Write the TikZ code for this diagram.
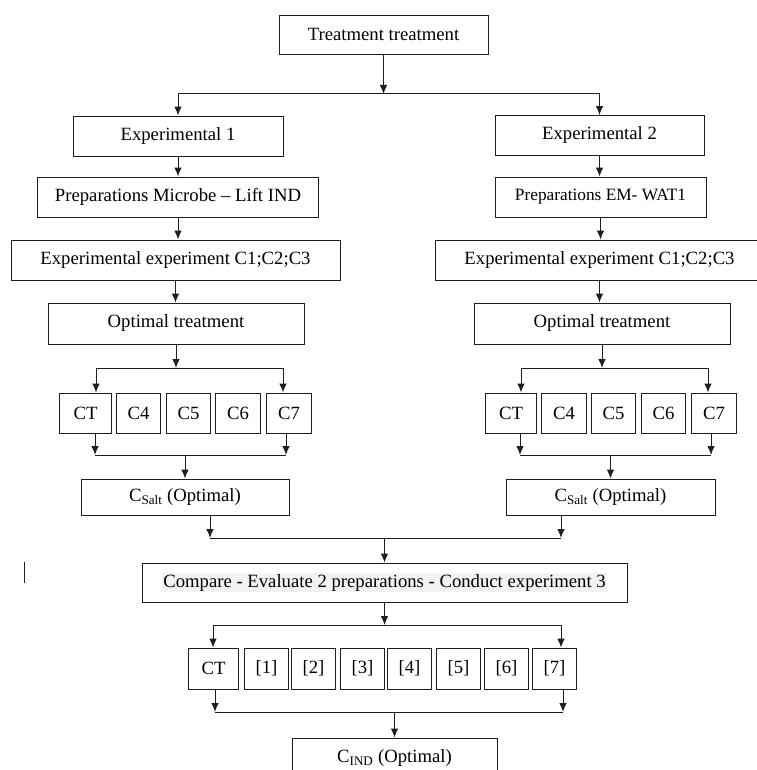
\documentclass[tikz,border=0pt]{standalone}
\usepackage{fontspec}
\setmainfont{Liberation Serif}
\usepackage{tikz}
\usetikzlibrary{arrows.meta,positioning,calc}
\definecolor{hlgray}{RGB}{242,242,242}
\definecolor{linec}{RGB}{30,30,30}
\begin{document}
\begin{tikzpicture}[
  x=1pt, y=-1pt,
  font=\fontsize{18.7}{22}\selectfont,
  >=Latex,
  box/.style={draw=linec, line width=0.95pt, inner sep=2pt,
    minimum height=40pt, align=center, text=black},
  cell/.style={box, minimum width=44pt},
  arr/.style={-{Latex[length=9pt,width=7.5pt]}, line width=1pt, color=linec},
  ln/.style={line width=1pt, color=linec}
]
\useasboundingbox (0,0) rectangle (756,770);

% ---- Top ----
\node[box, minimum width=209pt, minimum height=39pt] (top) at (383.5, 34.5) {Treatment treatment};

% ---- Branch 1 (left) ----
\node[box, minimum width=210pt] (exA) at (178, 136) {Experimental 1};
\node[box, minimum width=281pt] (prepA) at (178, 197) {Preparations Microbe -- Lift IND};
\node[box, minimum width=329pt] (runA) at (175.5, 260) {Experimental experiment C1;C2;C3};
\node[box, minimum width=256pt, minimum height=41pt] (optA) at (176, 323.5) {Optimal treatment};
\node[cell, minimum width=52pt] (ctA) at (85.5, 413) {CT};
\node[cell] (c4A) at (138.5, 413) {C4};
\node[cell] (c5A) at (188.5, 413) {C5};
\node[cell, minimum width=45pt] (c6A) at (238, 413) {C6};
\node[cell, minimum width=45pt] (c7A) at (289, 413) {C7};
\node[box, minimum width=208pt, minimum height=36pt] (csA) at (185, 497) {C\textsubscript{Salt} (Optimal)};

% ---- Branch 2 (right) ----
\node[box, minimum width=209pt] (exB) at (599.5, 135.5) {Experimental 2};
\node[box, minimum width=211pt, font=\fontsize{17.3}{20}\selectfont] (prepB) at (600.5, 197) {Preparations EM- WAT1};
\node[box, minimum width=329pt] (runB) at (599.5, 260) {Experimental experiment C1;C2;C3};
\node[box, minimum width=256pt, minimum height=41pt] (optB) at (602, 323.5) {Optimal treatment};
\node[cell, minimum width=51pt] (ctB) at (511, 413) {CT};
\node[cell, minimum width=45pt] (c4B) at (564, 413) {C4};
\node[cell] (c5B) at (613.5, 413) {C5};
\node[cell] (c6B) at (663.5, 413) {C6};
\node[cell, minimum width=45pt] (c7B) at (714, 413) {C7};
\node[box, minimum width=209pt, minimum height=36pt] (csB) at (610.5, 497) {C\textsubscript{Salt} (Optimal)};

% ---- Experiment 3 ----
\node[box, minimum width=485pt, minimum height=39pt] (cmp) at (384.5, 582.5)
  {\setlength{\fboxsep}{1pt}\colorbox{hlgray}{Compare - Evaluate 2 preparations - Conduct experiment 3}};
\node[cell, minimum width=50pt, minimum height=41pt] (ct3) at (213.5, 668.5) {CT};
\node[cell, minimum height=41pt] (d1) at (266.5, 668.5) {[1]};
\node[cell, minimum height=41pt] (d2) at (313.5, 668.5) {[2]};
\node[cell, minimum height=41pt] (d3) at (362.5, 668.5) {[3]};
\node[cell, minimum height=41pt] (d4) at (409.5, 668.5) {[4]};
\node[cell, minimum height=41pt] (d5) at (458.5, 668.5) {[5]};
\node[cell, minimum height=41pt] (d6) at (506.5, 668.5) {[6]};
\node[cell, minimum height=41pt] (d7) at (554.5, 668.5) {[7]};
\node[box, minimum width=205pt] (cind) at (394.5, 758) {C\textsubscript{IND} (Optimal)};

% ---- Junction points ----
\coordinate (jTop) at (383.5, 94);
\coordinate (sA1) at (96, 368);
\coordinate (sA2) at (283, 368);
\coordinate (mA1) at (95, 455);
\coordinate (mA2) at (286, 455);
\coordinate (sB1) at (521, 368);
\coordinate (sB2) at (708, 368);
\coordinate (mB1) at (520, 455);
\coordinate (mB2) at (711, 455);
\coordinate (jA) at (210, 538);
\coordinate (jB) at (561, 538);
\coordinate (sC1) at (213, 625);
\coordinate (sC2) at (561, 625);
\coordinate (mC1) at (215, 712);
\coordinate (mC2) at (563, 712);

% ---- Arrows: top split ----
\draw[arr] (top.south) -- (jTop);
\draw[ln] (exA.north |- jTop) -- (exB.north |- jTop);
\draw[arr] (exA.north |- jTop) -- (exA.north);
\draw[arr] (exB.north |- jTop) -- (exB.north);

% ---- Arrows: branch 1 ----
\draw[arr] (exA.south) -- (exA.south |- prepA.north);
\draw[arr] (prepA.south) -- (prepA.south |- runA.north);
\draw[arr] (runA.south) -- (runA.south |- optA.north);
\draw[arr] (optA.south) -- (optA.south |- sA1);
\draw[ln] (sA1) -- (sA2);
\draw[arr] (sA1) -- (sA1 |- ctA.north);
\draw[arr] (sA2) -- (sA2 |- c7A.north);
\draw[arr] (mA1 |- ctA.south) -- (mA1);
\draw[arr] (mA2 |- c7A.south) -- (mA2);
\draw[ln] (mA1) -- (mA2);
\draw[arr] (csA.north |- mA1) -- (csA.north);

% ---- Arrows: branch 2 ----
\draw[arr] (exB.south) -- (exB.south |- prepB.north);
\draw[arr] (prepB.south) -- (prepB.south |- runB.north);
\draw[arr] (runB.south) -- (runB.south |- optB.north);
\draw[arr] (optB.south) -- (optB.south |- sB1);
\draw[ln] (sB1) -- (sB2);
\draw[arr] (sB1) -- (sB1 |- ctB.north);
\draw[arr] (sB2) -- (sB2 |- c7B.north);
\draw[arr] (mB1 |- ctB.south) -- (mB1);
\draw[arr] (mB2 |- c7B.south) -- (mB2);
\draw[ln] (mB1) -- (mB2);
\draw[arr] (csB.north |- mB1) -- (csB.north);

% ---- Arrows: join and experiment 3 ----
\draw[arr] (jA |- csA.south) -- (jA);
\draw[arr] (jB |- csB.south) -- (jB);
\draw[ln] (jA) -- (jB);
\draw[arr] (cmp.north |- jA) -- (cmp.north);
\draw[arr] (cmp.south) -- (cmp.south |- sC1);
\draw[ln] (sC1) -- (sC2);
\draw[arr] (sC1) -- (sC1 |- ct3.north);
\draw[arr] (sC2) -- (sC2 |- d7.north);
\draw[arr] (mC1 |- ct3.south) -- (mC1);
\draw[arr] (mC2 |- d7.south) -- (mC2);
\draw[ln] (mC1) -- (mC2);
\draw[arr] (cind.north |- mC1) -- (cind.north);

% ---- Stray mark ----
\draw[ln] (24, 562) -- (24, 583);

\end{tikzpicture}
\end{document}
